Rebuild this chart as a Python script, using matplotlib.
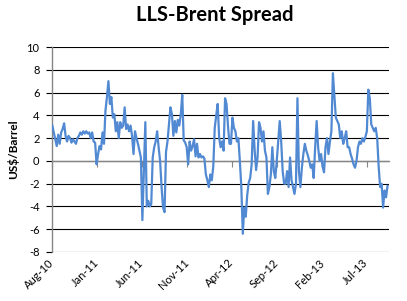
import matplotlib
matplotlib.use("Agg")
import matplotlib.pyplot as plt
import matplotlib.transforms as mtransforms
import pandas as pd

# LLS minus Brent, US$/barrel, one reading every 5 days from 2 Aug 2010
spread = [
    3.1, 2.5, 1.9, 1.3, 2.3, 1.5, 2.5, 2.8, 3.3, 2.2,
    1.7, 2.2, 2.0, 1.6, 1.9, 1.7, 1.5, 2.0, 2.2, 2.5,
    2.3, 2.6, 2.4, 2.6, 2.4, 2.5, 2.0, 2.5, 1.7, 1.6,
    -0.3, 0.6, 1.3, 1.0, 2.5, 1.5, 4.4, 5.6, 7.0, 5.0,
    5.6, 3.8, 4.1, 2.6, 3.4, 2.0, 3.4, 2.9, 3.1, 4.7,
    2.8, 3.2, 2.6, 3.1, 2.2, 0.6, 2.6, 2.0, 1.5, 0.9,
    0.3, -5.2, -0.9, 3.4, -4.0, -3.5, -4.0, -3.8, 0.3, 1.2,
    1.7, 2.6, 1.2, 0.0, -2.3, -4.1, -4.5, 0.8, 1.7, 3.2,
    4.7, 4.1, 2.2, 3.5, 2.5, 3.6, 3.1, 4.1, 5.8, 1.8,
    1.6, 1.2, -0.3, 1.7, 0.9, 1.3, 1.9, 0.4, 1.5, 0.3,
    0.6, 0.3, 0.4, 0.2, -1.2, -1.7, -2.3, -1.2, -1.7, -0.5,
    2.9, 4.0, 5.0, 2.0, 1.2, 1.7, 0.9, 5.5, 5.0, 3.0,
    1.5, 1.5, 3.8, 2.9, 2.6, 1.7, 2.0, 0.0, -2.3, -6.4,
    -4.1, -4.9, -3.0, -1.9, -1.5, -0.3, 3.5, 1.0, -0.8, 0.3,
    3.4, 2.9, 1.7, 2.6, 0.9, 0.3, -2.9, -2.3, -1.2, 1.2,
    -0.9, -1.5, 0.0, 1.7, 3.5, 1.7, -0.9, -2.0, -2.0, -0.9,
    -2.3, 0.3, -1.7, -2.3, -2.9, -2.0, 5.5, -0.9, -2.3, -0.6,
    0.6, 1.5, 0.9, 0.5, 0.0, -0.6, -0.3, -1.5, 1.2, 3.5,
    1.2, 0.0, 0.6, -0.5, -1.0, 1.2, 2.0, 0.6, 1.7, 2.6,
    7.7, 5.8, 3.8, 3.5, 3.2, 2.0, 2.6, 1.5, 2.0, 2.6,
    1.2, 1.2, 0.6, 0.2, -0.3, -0.6, 0.0, 1.2, 1.7, 1.5,
    2.0, 1.7, 2.1, 2.6, 6.25, 5.5, 3.2, 2.9, 2.6, 2.9,
    2.0, -0.5, -2.3, -2.0, -4.1, -2.6, -3.2, -2.2,
]
dates = pd.date_range("2010-08-02", periods=len(spread), freq="5D")

tick_dates = pd.date_range("2010-08-01", periods=8, freq="5MS")
tick_labels = [d.strftime("%b-%y") for d in tick_dates]
y_ticks = list(range(-8, 11, 2))

font = "Lato"
blue = "#5189d2"

fig = plt.figure(figsize=(4.07, 3.01), dpi=100)
ax = fig.add_axes([52 / 407, 1 - 252 / 301, (389 - 52) / 407, (252 - 47) / 301])

ax.plot(dates, spread, color=blue, lw=1.6, zorder=3)

ax.set_ylim(-8, 10)
ax.set_xlim(pd.Timestamp("2010-08-01"), pd.Timestamp("2013-09-15"))
ax.set_yticks(y_ticks)
ax.set_yticklabels([str(v) for v in y_ticks], fontfamily=font, fontsize=8)
ax.yaxis.grid(True, color="black", lw=0.8)
ax.set_axisbelow(True)
ax.tick_params(axis="y", length=4, width=0.8, color="black", pad=5)

for s in ["top", "right"]:
    ax.spines[s].set_visible(False)
ax.spines["left"].set_color("#868686")
ax.spines["left"].set_linewidth(1.0)
ax.spines["bottom"].set_position(("data", 0))
ax.spines["bottom"].set_color("#868686")
ax.spines["bottom"].set_linewidth(1.0)

ax.set_xticks(tick_dates)
ax.tick_params(axis="x", length=4, width=0.8, color="#868686", labelbottom=False)

trans = mtransforms.blended_transform_factory(ax.transData, ax.transAxes)
for d, lab in zip(tick_dates, tick_labels):
    ax.text(d, -0.044, lab, transform=trans, rotation=45, ha="right", va="center",
            rotation_mode="anchor", fontfamily=font, fontsize=8)

ax.set_ylabel("US$/Barrel", fontfamily=font, fontweight="bold", fontsize=8.5, labelpad=5)
fig.text(215 / 407, 1 - 15 / 301, "LLS-Brent Spread", ha="center", va="center",
         fontfamily=font, fontweight="bold", fontsize=14.5)

fig.savefig("out.png", dpi=100)
